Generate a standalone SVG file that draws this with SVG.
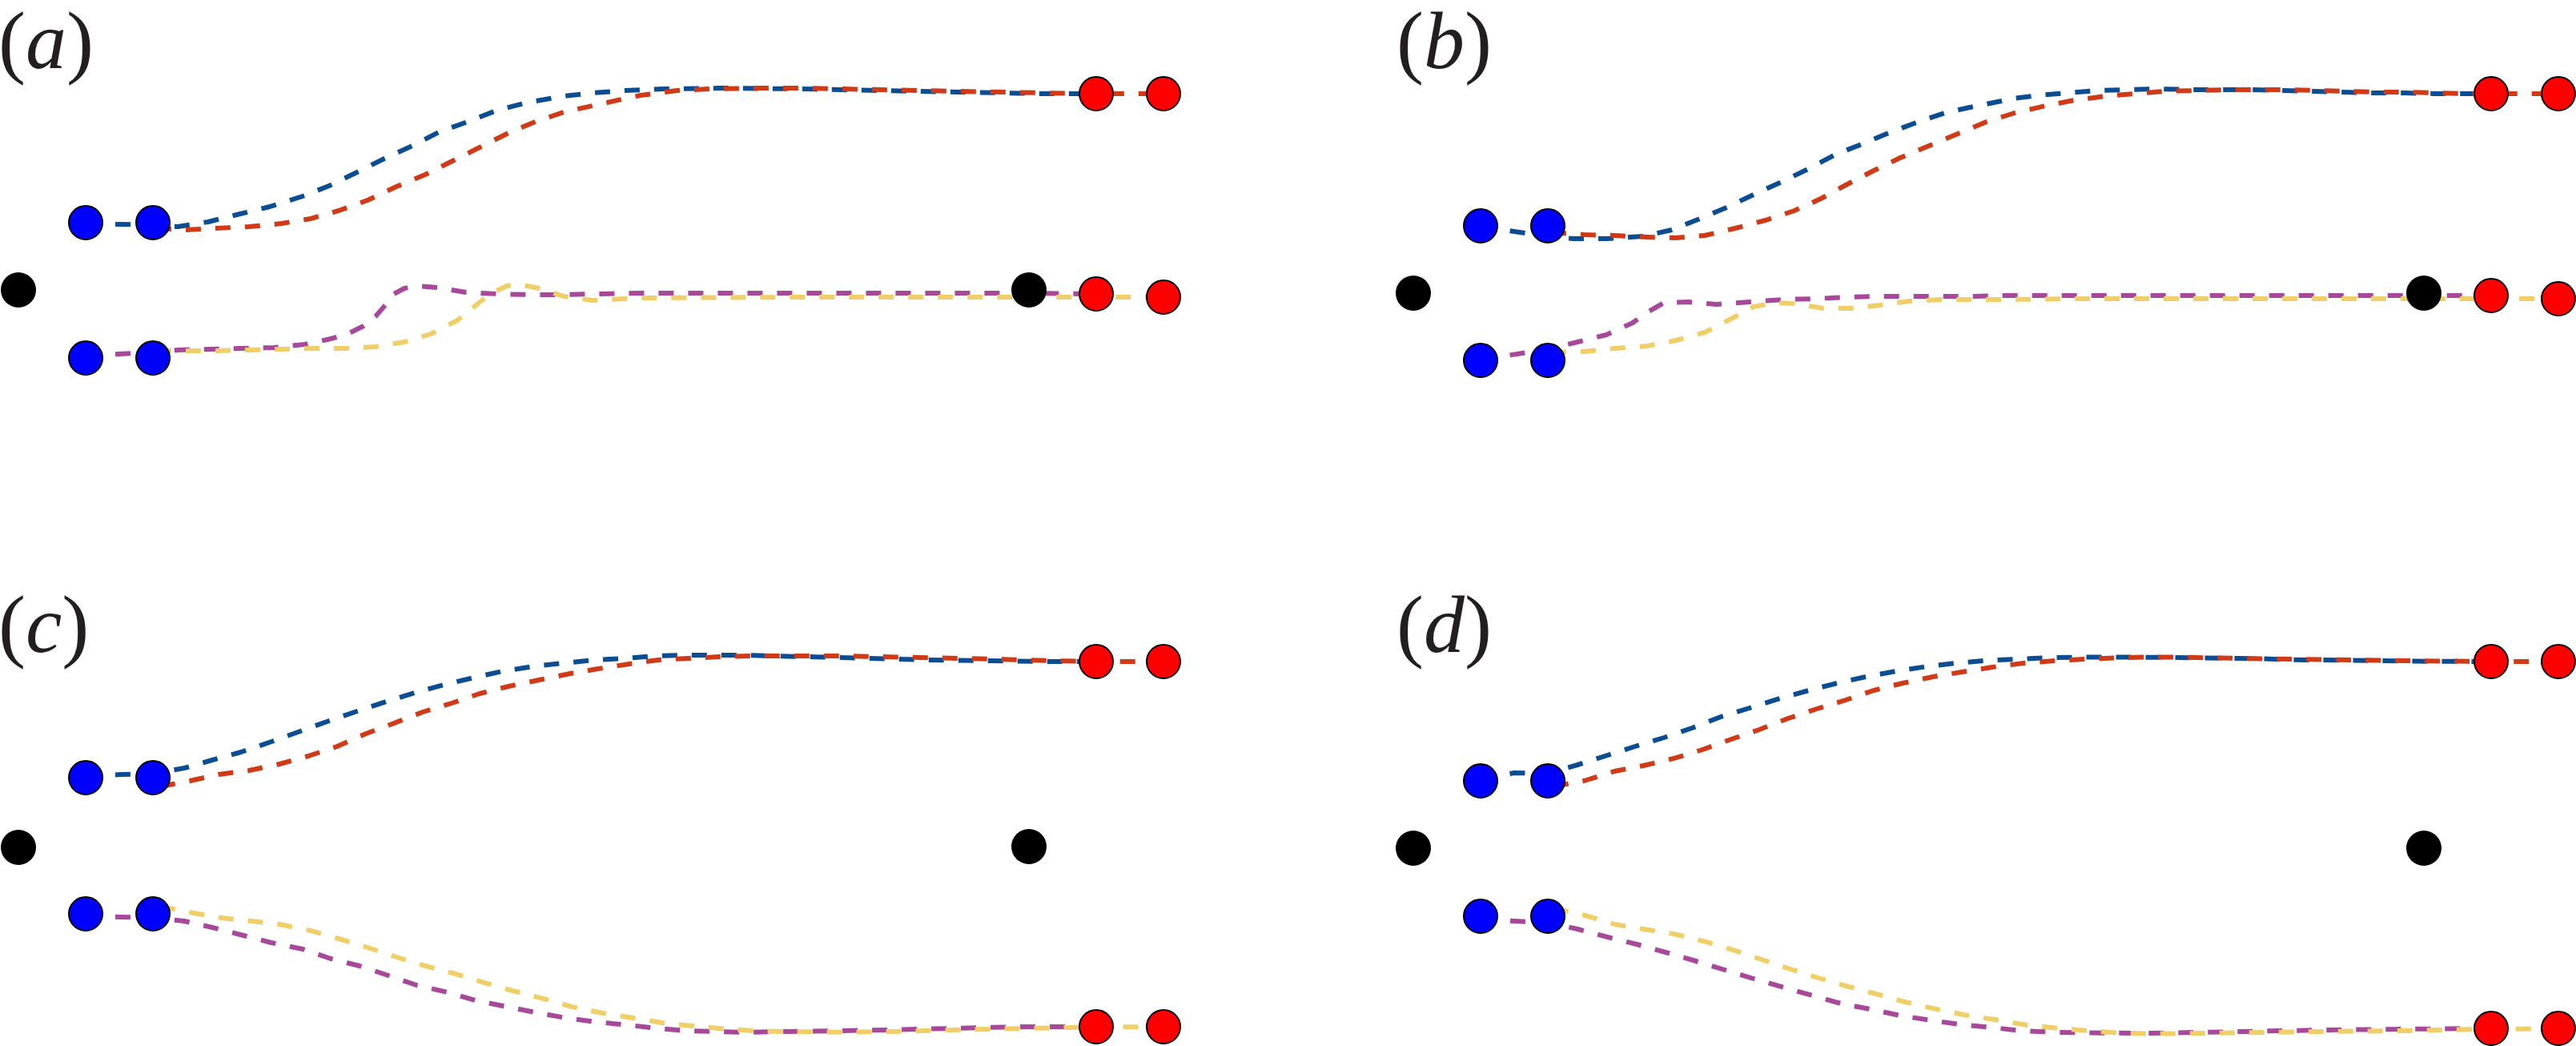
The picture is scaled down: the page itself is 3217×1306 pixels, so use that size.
<svg xmlns="http://www.w3.org/2000/svg" width="3217" height="1306" viewBox="0 0 3217 1306">
<style>
.lbl{font-family:"Liberation Serif","Times New Roman",serif;font-size:102px;fill:#231f20}
.it{font-style:italic}
.tr{fill:none;stroke-width:6;stroke-dasharray:19 18;stroke-linejoin:round}
.bl{stroke:#0b4d93}
.rd{stroke:#d13a16}
.pu{stroke:#a8489b}
.ye{stroke:#f0ce68}
.nb{fill:#0000ff;stroke:#000;stroke-width:2}
.nr{fill:#ff0000;stroke:#000;stroke-width:2}
.nk{fill:#000}
</style>
<rect width="3217" height="1306" fill="#fff"/>
<g id="labels">
<text class="lbl" x="-2" y="85">(<tspan class="it">a</tspan>)</text>
<text class="lbl" x="1744" y="85">(<tspan class="it">b</tspan>)</text>
<text class="lbl" x="-2" y="814">(<tspan class="it">c</tspan>)</text>
<text class="lbl" x="1744" y="814">(<tspan class="it">d</tspan>)</text>
</g>
<g id="connectors">
<!-- panel a -->
<polyline class="tr bl" points="107,279 191,281 222,283 260,277 296,268 337,258 378,245 411,232 446,215 480,198 515,182 548,165 584,152 620,138 658,128 704,120 740,116 781,113 830,111 900,110 1000,111 1100,113 1200,115 1300,117 1369,117"/>
<polyline class="tr rd" points="195,285 230,287 270,285 311,283 352,279 388,273 423,263 459,250 495,233 531,218 561,203 597,185 633,167 666,153 704,140 740,132 781,123 800,119 846,113 887,111 950,110 1000,110 1100,112 1200,114 1300,116 1369,117 1453,117"/>
<polyline class="tr pu" points="107,444 191,440 222,437 260,436 301,435 342,434 380,430 413,423 434,417 454,407 469,395 482,380 492,367 505,360 520,357 546,359 582,365 622,367 663,368 704,368 745,367 800,366 1000,366 1285,366 1369,367"/>
<polyline class="tr ye" points="195,438 230,438 270,438 311,437 352,436 393,435 429,435 469,433 505,427 538,417 571,400 592,383 612,367 633,357 648,355 673,360 704,370 740,375 781,373 800,372 1000,371 1369,371 1453,371"/>
<!-- panel b -->
<polyline class="tr bl" points="1849,283 1933,295 1965,298 2006,298 2052,295 2088,287 2118,275 2154,260 2190,243 2223,228 2256,212 2292,193 2325,180 2361,165 2396,152 2432,140 2470,132 2500,126 2514,123 2546,119 2582,116 2621,113 2660,112 2697,111 2738,112 2811,112 2847,113 2889,114 2925,115 2962,116 3003,116 3040,117 3111,117"/>
<polyline class="tr rd" points="1937,290 1978,293 2016,294 2057,296 2093,297 2129,294 2167,285 2205,275 2241,263 2274,248 2307,230 2340,213 2373,197 2409,182 2445,167 2481,152 2500,146 2516,141 2555,132 2591,125 2630,120 2667,117 2703,114 2742,113 2781,112 2857,112 2893,113 2932,114 2971,115 3008,115 3044,116 3085,117 3111,117 3195,117"/>
<polyline class="tr pu" points="1849,449 1933,436 1970,427 2006,418 2039,403 2057,390 2078,378 2108,377 2144,380 2185,377 2226,374 2266,373 2307,371 2348,370 2465,370 2500,369 3111,369"/>
<polyline class="tr ye" points="1937,440 1978,439 2016,435 2057,432 2093,425 2129,415 2162,398 2190,383 2215,378 2241,379 2277,385 2312,385 2348,381 2384,376 2424,374 2500,374 2600,373 3195,373"/>
<!-- panel c -->
<polyline class="tr bl" points="107,970 150,967 191,966 230,959 265,949 301,939 339,926 375,913 411,900 446,888 482,876 518,865 554,855 592,846 628,838 666,832 704,828 742,824 781,822 818,819 856,818 932,818 970,819 1008,820 1046,821 1083,822 1159,824 1235,825 1311,826 1369,826"/>
<polyline class="tr rd" points="200,982 237,975 273,967 311,962 349,954 385,944 421,932 457,916 492,903 528,889 564,878 599,866 635,857 673,849 712,841 747,835 786,829 822,824 860,822 898,820 936,819 1050,819 1100,820 1200,822 1313,825 1369,826 1453,826"/>
<polyline class="tr pu" points="107,1143 150,1145 191,1146 230,1150 265,1158 304,1168 339,1177 378,1185 413,1197 449,1206 485,1218 520,1230 559,1239 594,1249 633,1257 668,1264 707,1271 745,1276 786,1280 820,1284 858,1287 896,1288 934,1289 972,1288 1048,1287 1124,1285.6 1200,1283.7 1275,1282 1369,1282"/>
<polyline class="tr ye" points="200,1132 237,1139 276,1146 314,1150 349,1154 388,1162 423,1172 459,1183 495,1195 531,1206 569,1216 605,1227 640,1237 679,1247 714,1257 753,1265 791,1271 827,1277 865,1281 903,1284.5 941,1287 979,1288 1054,1288.7 1130,1287.6 1206,1285.6 1282,1284 1358,1282.5 1453,1282"/>
<!-- panel d -->
<polyline class="tr bl" points="1849,972 1891,965 1933,966 1970,955 2006,943.5 2042,932 2078,921 2113,909 2149,895 2185,884 2223,872 2259,862 2294,853 2330,845 2368,838 2407,832 2442,828 2483,824.5 2520,823 2559,821 2598,820.6 2674,820.6 2751,821.4 2827,822.5 2863,823.7 2939,824.5 3017,825.6 3111,826"/>
<polyline class="tr rd" points="1940,982 1978,975 2016,963 2052,956 2090,947 2126,936 2162,923 2197,911 2233,897 2269,885 2305,874 2340,862 2376,853 2414,845 2450,839 2488,833 2527,828 2566,825 2603,823 2642,821.4 2678,820.6 2717,820.6 2800,822 2900,823.5 3000,825 3111,826 3195,826"/>
<polyline class="tr pu" points="1849,1148 1891,1150 1933,1152 1970,1160 2006,1169.6 2044,1179 2080,1189 2118,1200 2154,1211 2190,1222 2228,1233 2264,1243 2299,1253 2338,1260.5 2373,1268 2412,1274 2447,1279 2488,1283 2525,1287 2562,1288.7 2600,1289.5 2676,1290 2715,1289.5 2800,1288 2900,1286 3000,1285 3111,1284"/>
<polyline class="tr ye" points="1940,1134 1978,1142.6 2016,1154 2052,1160 2090,1166 2129,1175.5 2164,1186 2200,1198 2236,1210 2271,1221 2307,1231.5 2343,1241 2379,1251 2417,1259.7 2455,1267.5 2491,1273 2532,1280 2569,1283.7 2605,1286.8 2644,1289.5 2683,1290.6 2719,1290.6 2758,1290 2900,1288 3000,1287 3062,1285.6 3195,1284"/>
</g>
<g id="panel-a">
<circle id="a-blue1" class="nb" cx="107" cy="278" r="21"/>
<circle id="a-blue2" class="nb" cx="191" cy="278" r="21"/>
<circle id="a-blue3" class="nb" cx="107" cy="447" r="21"/>
<circle id="a-blue4" class="nb" cx="191" cy="447" r="21"/>
<circle id="a-black1" class="nk" cx="23" cy="362" r="22"/>
<circle id="a-black2" class="nk" cx="1285" cy="362" r="22"/>
<circle id="a-red1" class="nr" cx="1369" cy="117" r="21"/>
<circle id="a-red2" class="nr" cx="1453" cy="117" r="21"/>
<circle id="a-red3" class="nr" cx="1369" cy="367" r="21"/>
<circle id="a-red4" class="nr" cx="1453" cy="371" r="21"/>
</g>
<g id="panel-b">
<circle id="b-blue1" class="nb" cx="1849" cy="282" r="21"/>
<circle id="b-blue2" class="nb" cx="1933" cy="282" r="21"/>
<circle id="b-blue3" class="nb" cx="1849" cy="450" r="21"/>
<circle id="b-blue4" class="nb" cx="1933" cy="450" r="21"/>
<circle id="b-black1" class="nk" cx="1765" cy="366" r="22"/>
<circle id="b-black2" class="nk" cx="3027" cy="366" r="22"/>
<circle id="b-red1" class="nr" cx="3111" cy="117" r="21"/>
<circle id="b-red2" class="nr" cx="3195" cy="117" r="21"/>
<circle id="b-red3" class="nr" cx="3111" cy="369" r="21"/>
<circle id="b-red4" class="nr" cx="3195" cy="373" r="21"/>
</g>
<g id="panel-c">
<circle id="c-blue1" class="nb" cx="107" cy="971" r="21"/>
<circle id="c-blue2" class="nb" cx="191" cy="971" r="21"/>
<circle id="c-blue3" class="nb" cx="107" cy="1141" r="21"/>
<circle id="c-blue4" class="nb" cx="191" cy="1141" r="21"/>
<circle id="c-black1" class="nk" cx="23" cy="1058" r="22"/>
<circle id="c-black2" class="nk" cx="1285" cy="1057" r="22"/>
<circle id="c-red1" class="nr" cx="1369" cy="826" r="21"/>
<circle id="c-red2" class="nr" cx="1453" cy="826" r="21"/>
<circle id="c-red3" class="nr" cx="1369" cy="1282" r="21"/>
<circle id="c-red4" class="nr" cx="1453" cy="1282" r="21"/>
</g>
<g id="panel-d">
<circle id="d-blue1" class="nb" cx="1849" cy="975" r="21"/>
<circle id="d-blue2" class="nb" cx="1933" cy="975" r="21"/>
<circle id="d-blue3" class="nb" cx="1849" cy="1144" r="21"/>
<circle id="d-blue4" class="nb" cx="1933" cy="1144" r="21"/>
<circle id="d-black1" class="nk" cx="1765" cy="1059" r="22"/>
<circle id="d-black2" class="nk" cx="3027" cy="1059" r="22"/>
<circle id="d-red1" class="nr" cx="3111" cy="826" r="21"/>
<circle id="d-red2" class="nr" cx="3195" cy="826" r="21"/>
<circle id="d-red3" class="nr" cx="3111" cy="1284" r="21"/>
<circle id="d-red4" class="nr" cx="3195" cy="1284" r="21"/>
</g>
</svg>
